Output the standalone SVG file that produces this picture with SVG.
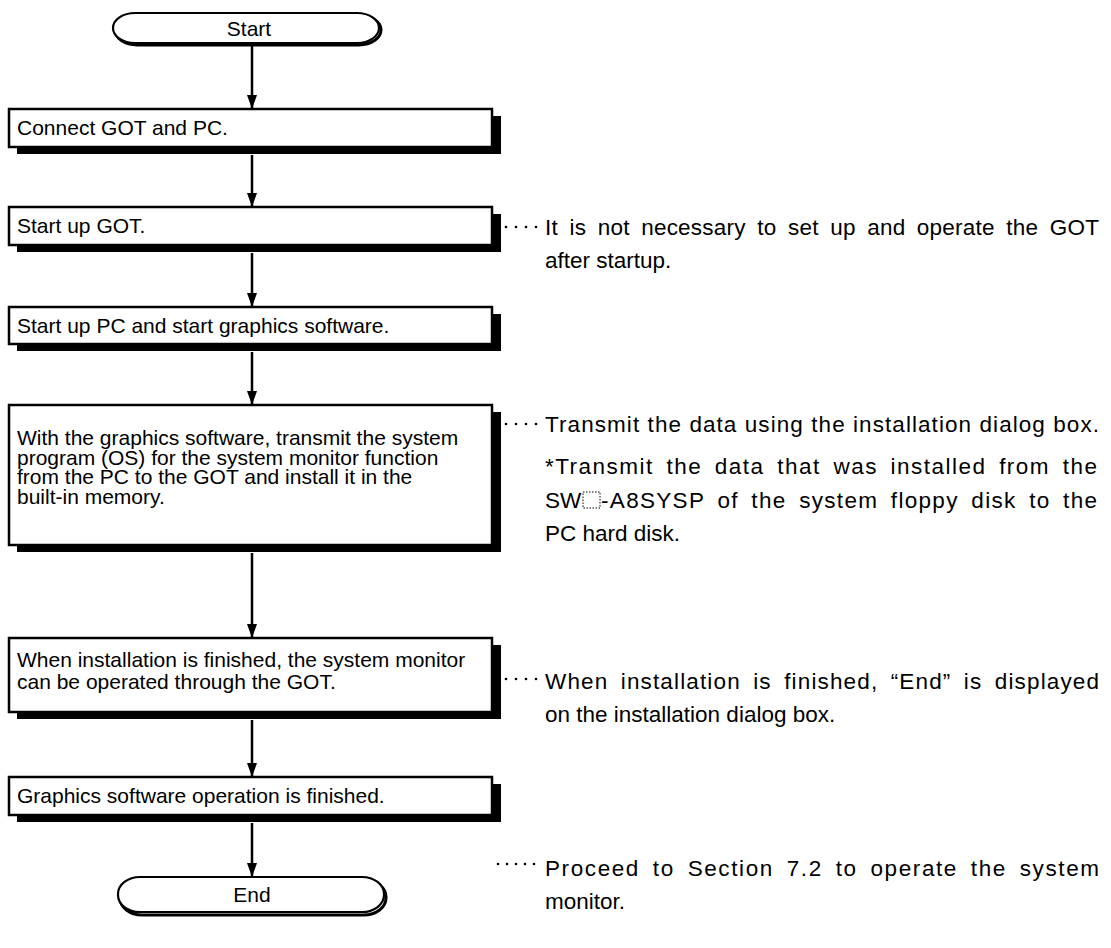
<svg xmlns="http://www.w3.org/2000/svg" width="1111" height="948" viewBox="0 0 1111 948">
  <style>
    .bg { fill: #ffffff; }
    .shadow { fill: #000000; }
    .box { fill: #ffffff; stroke: #000000; stroke-width: 2.5; }
    .term-sh { fill: none; stroke: #000000; stroke-width: 3; }
    .term { fill: #ffffff; stroke: #000000; stroke-width: 2.2; }
    .lbl { font-family: "Liberation Sans", Arial, sans-serif; font-size: 21px; fill: #000000; }
    .note { font-family: "Liberation Sans", Arial, sans-serif; font-size: 22.5px; fill: #000000; }
    .just { word-spacing: 5px; }
    .flow { stroke: #000000; stroke-width: 2.5; fill: none; marker-end: url(#head); }
    .dot { fill: #000000; }
  </style>
  <defs>
    <marker id="head" markerUnits="userSpaceOnUse" markerWidth="14" markerHeight="11" refX="14" refY="5" orient="auto">
      <path d="M0,0 L14,5 L0,10 z" fill="#000000"/>
    </marker>
  </defs>

  <rect class="bg" x="0" y="0" width="1111" height="948"/>

  <!-- connectors -->
  <g id="connectors">
    <line class="flow" x1="252" y1="45" x2="252" y2="109"/>
    <line class="flow" x1="252" y1="155" x2="252" y2="207"/>
    <line class="flow" x1="252" y1="253" x2="252" y2="307"/>
    <line class="flow" x1="252" y1="352" x2="252" y2="405"/>
    <line class="flow" x1="252" y1="553" x2="252" y2="638"/>
    <line class="flow" x1="252" y1="720" x2="252" y2="777"/>
    <line class="flow" x1="252" y1="823" x2="252" y2="877"/>
  </g>

  <g id="start">
    <rect class="term-sh" x="115" y="15" width="266" height="30" rx="22" ry="15"/>
    <rect class="term" x="113" y="13" width="266" height="30" rx="22" ry="15"/>
    <text class="lbl" x="249" y="36" text-anchor="middle">Start</text>
  </g>

  <g id="step1">
    <rect class="shadow" x="17" y="116" width="484" height="38"/>
    <rect class="box" x="9" y="109" width="483" height="38"/>
    <text class="lbl" x="17" y="135">Connect GOT and PC.</text>
  </g>

  <g id="step2">
    <rect class="shadow" x="17" y="214" width="484" height="38"/>
    <rect class="box" x="9" y="207" width="483" height="38"/>
    <text class="lbl" x="17" y="233">Start up GOT.</text>
  </g>

  <g id="step3">
    <rect class="shadow" x="17" y="314" width="484" height="37"/>
    <rect class="box" x="9" y="307" width="483" height="37"/>
    <text class="lbl" x="17" y="333">Start up PC and start graphics software.</text>
  </g>

  <g id="step4">
    <rect class="shadow" x="17" y="412" width="484" height="140"/>
    <rect class="box" x="9" y="405" width="483" height="140"/>
    <text class="lbl" x="17" y="445">With the graphics software, transmit the system</text>
    <text class="lbl" x="17" y="464.5">program (OS) for the system monitor function</text>
    <text class="lbl" x="17" y="484">from the PC to the GOT and install it in the</text>
    <text class="lbl" x="17" y="503.5">built-in memory.</text>
  </g>

  <g id="step5">
    <rect class="shadow" x="17" y="645" width="484" height="74"/>
    <rect class="box" x="9" y="638" width="483" height="74"/>
    <text class="lbl" x="17" y="667">When installation is finished, the system monitor</text>
    <text class="lbl" x="17" y="689">can be operated through the GOT.</text>
  </g>

  <g id="step6">
    <rect class="shadow" x="17" y="784" width="484" height="38"/>
    <rect class="box" x="9" y="777" width="483" height="38"/>
    <text class="lbl" x="17" y="803">Graphics software operation is finished.</text>
  </g>

  <g id="end">
    <rect class="term-sh" x="120" y="880" width="266" height="35" rx="22" ry="17"/>
    <rect class="term" x="118" y="877" width="266" height="35" rx="22" ry="17"/>
    <text class="lbl" x="252" y="902" text-anchor="middle">End</text>
  </g>

  <!-- side notes with dotted leaders -->
  <g id="note-startup">
    <circle class="dot" cx="506" cy="227" r="1.3"/>
    <circle class="dot" cx="516" cy="227" r="1.3"/>
    <circle class="dot" cx="526" cy="227" r="1.3"/>
    <circle class="dot" cx="536" cy="227" r="1.3"/>
    <text class="note just" x="545" y="235" textLength="554">It is not necessary to set up and operate the GOT</text>
    <text class="note" x="545" y="268">after startup.</text>
  </g>

  <g id="note-transmit">
    <circle class="dot" cx="506" cy="424" r="1.3"/>
    <circle class="dot" cx="516" cy="424" r="1.3"/>
    <circle class="dot" cx="526" cy="424" r="1.3"/>
    <circle class="dot" cx="536" cy="424" r="1.3"/>
    <text class="note" x="545" y="432" textLength="554">Transmit the data using the installation dialog box.</text>
    <text class="note just" x="545" y="474" textLength="552">*Transmit the data that was installed from the</text>
    <text class="note" x="545" y="508">SW</text>
    <rect x="583" y="492" width="17" height="16" fill="none" stroke="#000000" stroke-width="1" stroke-dasharray="1.5,1.5"/>
    <text class="note just" x="601" y="508" textLength="496">-A8SYSP of the system floppy disk to the</text>
    <text class="note" x="545" y="541">PC hard disk.</text>
  </g>

  <g id="note-finished">
    <circle class="dot" cx="506" cy="679" r="1.3"/>
    <circle class="dot" cx="516" cy="679" r="1.3"/>
    <circle class="dot" cx="526" cy="679" r="1.3"/>
    <circle class="dot" cx="536" cy="679" r="1.3"/>
    <text class="note just" x="545" y="689" textLength="554">When installation is finished, “End” is displayed</text>
    <text class="note" x="545" y="722">on the installation dialog box.</text>
  </g>

  <g id="note-proceed">
    <circle class="dot" cx="498" cy="864" r="1.3"/>
    <circle class="dot" cx="507" cy="864" r="1.3"/>
    <circle class="dot" cx="516" cy="864" r="1.3"/>
    <circle class="dot" cx="525" cy="864" r="1.3"/>
    <circle class="dot" cx="534" cy="864" r="1.3"/>
    <text class="note just" x="545" y="876" textLength="554">Proceed to Section 7.2 to operate the system</text>
    <text class="note" x="545" y="909">monitor.</text>
  </g>
</svg>
